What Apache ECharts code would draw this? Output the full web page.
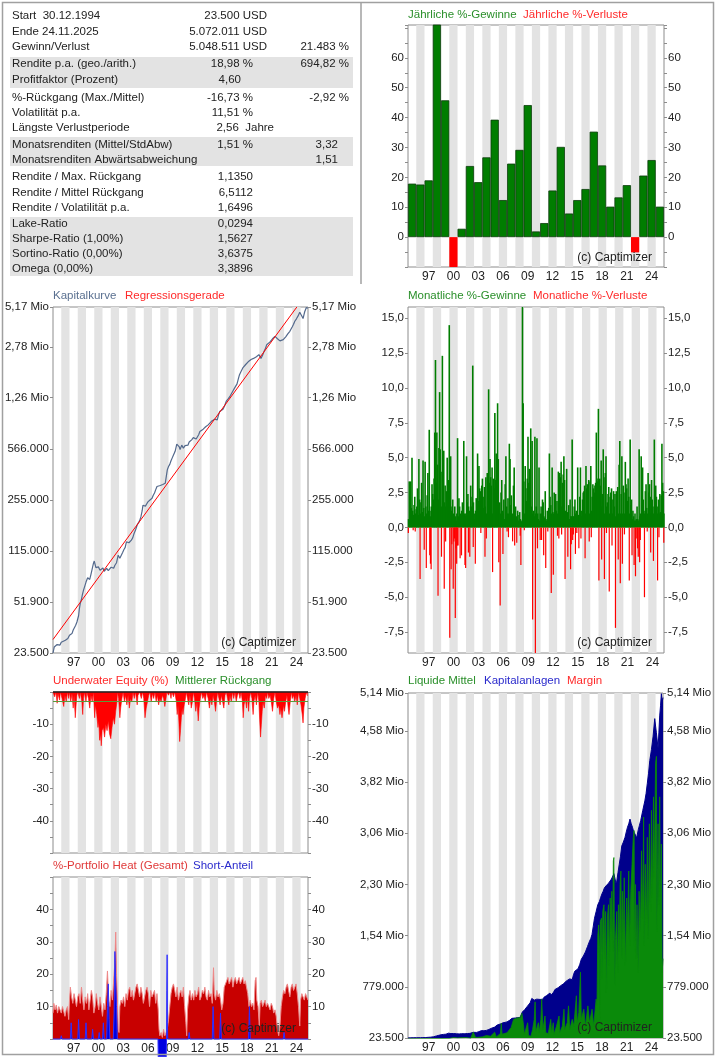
<!DOCTYPE html>
<html>
<head>
<meta charset="utf-8">
<title>Captimizer Auswertung</title>
<script src="https://cdn.jsdelivr.net/npm/echarts@6/dist/echarts.min.js"></script>
<style>
  body { margin: 0; background: #fff; }
  #main { width: 717px; height: 1057px; }
</style>
</head>
<body>
<div id="main"></div>
<script>
// ---- Kennzahlen-Tabelle ----
const statLabels = ['Start  30.12.1994', 'Ende 24.11.2025', 'Gewinn/Verlust', 'Rendite p.a. (geo./arith.)',
  'Profitfaktor (Prozent)', '%-Rückgang (Max./Mittel)', 'Volatilität p.a.', 'Längste Verlustperiode',
  'Monatsrenditen (Mittel/StdAbw)', 'Monatsrenditen Abwärtsabweichung', 'Rendite / Max. Rückgang',
  'Rendite / Mittel Rückgang', 'Rendite / Volatilität p.a.', 'Lake-Ratio', 'Sharpe-Ratio (1,00%)',
  'Sortino-Ratio (0,00%)', 'Omega (0,00%)'];
const statValues = ['23.500 USD', '5.072.011 USD', '5.048.511 USD', '18,98 %', '4,60', '-16,73 %', '11,51 %',
  '2,56  Jahre', '1,51 %', '', '1,1350', '6,5112', '1,6496', '0,0294', '1,5627', '3,6375', '3,3896'];
const statExtra = ['', '', '21.483 %', '694,82 %', '', '-2,92 %', '', '', '3,32', '1,51', '', '', '', '', '', '', ''];

// ---- Jahresrenditen ----
const years = [1995, 1996, 1997, 1998, 1999, 2000, 2001, 2002, 2003, 2004, 2005, 2006, 2007, 2008, 2009, 2010,
  2011, 2012, 2013, 2014, 2015, 2016, 2017, 2018, 2019, 2020, 2021, 2022, 2023, 2024, 2025];
const yearlyReturns = [17.9, 17.6, 19.0, 75.0, 45.8, -10.8, 2.8, 23.8, 18.4, 26.7, 39.3, 12.4, 24.6, 29.2, 44.2,
  1.9, 4.7, 15.6, 30.2, 7.9, 12.4, 16.1, 35.3, 24.0, 10.2, 13.3, 17.4, -5.1, 20.6, 25.8, 10.2];
const labelYears = [1997, 2000, 2003, 2006, 2009, 2012, 2015, 2018, 2021, 2024];

// ---- Monatliche Gewinne / Verluste je Monat (Jan 1995 .. Nov 2025) ----
const monthlyGains = [
  0.6, 3.3, 2.5, 3.3, 1.4, 5.0, 1.2, 0.9, 1.6, 2.2, 1.0, 1.3,     // 1995
  1.5, 2.8, 0.9, 4.9, 2.0, 1.0, 1.8, 3.2, 1.1, 4.8, 1.4, 0.8,     // 1996
  4.7, 1.5, 1.0, 2.3, 3.9, 1.2, 7.0, 1.2, 0.8, 1.5, 3.1, 2.4,     // 1997
  2.0, 3.5, 6.8, 12.0, 3.2, 6.8, 4.5, 2.0, 5.7, 9.7, 5.6, 4.0,    // 1998
  1.5, 12.3, 2.8, 5.5, 1.8, 3.0, 1.5, 2.6, 5.0, 1.5, 3.4, 14.5,   // 1999
  1.0, 5.1, 1.2, 1.5, 2.0, 1.0, 0.8, 1.5, 0.8, 0.5, 1.0, 6.4,     // 2000
  0.8, 2.1, 1.5, 1.0, 0.9, 1.2, 1.8, 0.6, 6.2, 1.0, 0.8, 1.0,     // 2001
  5.1, 1.8, 2.4, 1.5, 1.2, 1.0, 3.0, 1.5, 2.2, 11.6, 1.8, 0.6,    // 2002
  1.0, 1.2, 2.1, 1.5, 5.3, 1.9, 4.4, 2.8, 2.6, 2.0, 3.0, 3.5,     // 2003
  2.2, 1.4, 2.9, 1.5, 3.6, 1.0, 3.9, 2.5, 9.9, 3.2, 4.9, 3.6,     // 2004
  3.0, 4.3, 1.0, 3.5, 2.8, 8.2, 3.4, 5.3, 5.1, 8.9, 4.9, 1.5,     // 2005
  1.8, 1.0, 2.5, 3.4, 1.2, 1.0, 2.0, 0.6, 3.1, 5.1, 1.5, 1.0,     // 2006
  2.1, 1.0, 6.0, 4.9, 1.6, 2.3, 0.8, 1.0, 3.0, 4.3, 0.8, 1.5,     // 2007
  0.8, 0.5, 1.2, 0.5, 0.9, 1.1, 0.6, 0.5, 0.4, 16.5, 8.9, 3.3,    // 2008
  1.0, 4.4, 2.8, 1.9, 3.5, 6.5, 3.2, 4.2, 2.0, 7.1, 1.5, 6.2,     // 2009
  1.0, 1.2, 0.8, 6.5, 1.0, 1.5, 6.4, 1.0, 0.6, 4.3, 0.5, 1.0,     // 2010
  1.5, 1.0, 2.0, 1.8, 0.8, 0.7, 2.6, 0.6, 0.5, 1.2, 0.6, 1.4,     // 2011
  5.3, 2.2, 1.6, 1.0, 4.3, 1.1, 1.0, 2.5, 1.8, 2.4, 1.2, 1.9,     // 2012
  1.0, 4.0, 1.5, 3.9, 3.6, 4.7, 1.5, 3.2, 3.8, 5.1, 3.4, 1.2,     // 2013
  0.8, 4.2, 1.1, 1.0, 1.6, 0.6, 2.0, 0.8, 0.8, 6.3, 0.8, 0.8,     // 2014
  1.5, 2.0, 1.0, 1.2, 0.8, 4.3, 0.9, 0.8, 2.2, 4.3, 0.8, 1.2,     // 2015
  2.0, 2.5, 2.6, 3.0, 1.0, 4.4, 2.8, 3.1, 2.5, 3.4, 1.0, 3.3,     // 2016
  4.4, 1.2, 2.2, 3.1, 2.8, 2.5, 3.0, 3.2, 6.8, 3.5, 3.3, 8.5,     // 2017
  1.2, 3.5, 3.0, 4.8, 1.5, 2.4, 5.6, 3.6, 1.0, 3.9, 5.1, 1.5,     // 2018
  1.8, 2.4, 2.9, 1.0, 2.2, 2.5, 2.8, 1.0, 2.0, 2.6, 1.5, 2.4,     // 2019
  0.8, 2.6, 1.9, 2.9, 1.0, 4.5, 6.2, 1.0, 2.4, 5.1, 1.0, 3.0,     // 2020
  2.5, 1.0, 4.7, 3.1, 2.8, 1.9, 3.5, 2.2, 1.0, 6.3, 1.6, 2.0,     // 2021
  0.6, 1.2, 0.8, 0.5, 1.0, 0.5, 0.6, 1.5, 0.6, 0.5, 5.6, 0.8,     // 2022
  1.0, 5.1, 1.5, 4.3, 2.0, 1.2, 1.0, 2.6, 3.1, 1.4, 1.0, 3.9,     // 2023
  2.5, 3.1, 2.2, 1.0, 3.4, 2.0, 1.5, 1.0, 6.3, 2.8, 3.0, 2.2,     // 2024
  1.5, 1.0, 2.0, 1.0, 2.4, 1.1, 2.3, 6.0, 3.2, 2.6, 1.0           // 2025
];
const monthlyLosses = [
  -0.4, 0, 0, 0, 0, 0, 0, -0.2, 0, 0, -0.3, 0,                    // 1995
  0, 0, 0, 0, 0, -3.7, 0, 0, 0, 0, 0, -1.6,                       // 1996
  0, 0, -2.9, 0, 0, 0, 0, -2.0, -2.6, -3.0, 0, 0,                 // 1997
  0, 0, 0, 0, 0, 0, 0, -4.9, 0, 0, 0, 0,                          // 1998
  -2.1, 0, 0, 0, -4.4, 0, -1.0, 0, 0, 0, 0, 0,                    // 1999
  -7.9, 0, -3.0, -1.2, 0, -4.4, -1.0, -0.8, -6.5, -1.5, -2.6, -1.3, // 2000
  -1.3, 0, 0, -2.2, 0, -2.0, 0, 0, 0, 0, -2.7, -2.9,              // 2001
  0, 0, 0, -1.8, 0, -2.1, 0, 0, 0, 0, -1.4, 0,                    // 2002
  0, -2.6, 0, 0, 0, 0, 0, 0, 0, -0.4, 0, 0,                       // 2003
  0, 0, 0, -2.1, 0, -0.8, 0, 0, 0, 0, 0, 0,                       // 2004
  0, 0, -3.2, 0, 0, 0, 0, 0, 0, 0, 0, -2.5,                       // 2005
  0, -5.6, 0, 0, 0, -1.9, 0, 0, 0, 0, 0, -0.3,                    // 2006
  0, -0.7, 0, 0, 0, 0, 0, -1.0, 0, 0, -1.3, 0,                    // 2007
  0, -1.1, 0, 0, 0, 0, -0.6, -2.7, 0, 0, 0, 0,                    // 2008
  -0.2, 0, 0, 0, 0, 0, 0, 0, 0, 0, 0, 0,                          // 2009
  -6.6, 0, 0, 0, -9.3, 0, 0, -1.5, 0, 0, 0, -0.9,                 // 2010
  0, -0.9, 0, 0, -2.0, 0, 0, -2.9, 0, 0, -0.3, 0,                 // 2011
  0, 0, 0, -4.7, 0, 0, -3.4, 0, 0, 0, 0, 0,                       // 2012
  -0.6, 0, -0.8, 0, 0, 0, -0.5, 0, 0, 0, 0, -3.7,                 // 2013
  0, 0, 0, -2.1, 0, 0, 0, -3.0, -1.2, 0, -0.9, -0.5,              // 2014
  0, 0, -1.9, 0, -0.4, 0, 0, -1.5, 0, 0, -0.8, 0,                 // 2015
  0, 0, 0, 0, -2.2, 0, 0, 0, 0, 0, -1.0, 0,                       // 2016
  0, -0.7, 0, 0, 0, 0, 0, 0, 0, 0, 0, 0,                          // 2017
  -3.8, 0, 0, 0, -2.3, 0, 0, 0, -3.7, 0, 0, -0.4,                 // 2018
  0, 0, 0, -4.6, 0, 0, 0, -1.3, 0, 0, 0, 0,                       // 2019
  -7.2, 0, 0, 0, -2.3, 0, 0, -4.0, 0, 0, -2.6, 0,                 // 2020
  0, -0.5, 0, 0, 0, 0, 0, 0, -3.8, 0, 0, 0,                       // 2021
  -2.0, 0, 0, -2.7, 0, -3.5, -0.8, 0, -1.5, -2.1, 0, -2.5,        // 2022
  -0.9, 0, 0, 0, 0, 0, -5.0, 0, 0, 0, -0.3, 0,                    // 2023
  0, 0, 0, -1.8, 0, 0, 0, -2.4, 0, 0, 0, 0,                       // 2024
  0, -3.8, 0, -0.7, 0, 0, 0, 0, 0, 0, -1.1                        // 2025
];

// ---- Kapitalkurve [Jahr, USD] ----
const equityCurve = [
  [1995.0, 23500], [1995.15, 25800], [1995.3, 25500], [1995.5, 26800], [1995.7, 27200], [1995.85, 26600],
  [1996.0, 27800], [1996.2, 28100], [1996.5, 28650], [1996.65, 28000], [1996.8, 29500], [1997.0, 31000],
  [1997.15, 30400], [1997.3, 31800], [1997.45, 33600], [1997.6, 33900], [1997.75, 36200], [1997.9, 38100],
  [1998.1, 42000], [1998.2, 47000], [1998.3, 50800], [1998.45, 54500], [1998.55, 58000], [1998.7, 62600],
  [1998.9, 68000], [1999.0, 71000], [1999.1, 72000], [1999.2, 76000], [1999.3, 77000], [1999.45, 74000],
  [1999.6, 80000], [1999.75, 82000], [1999.9, 95000], [2000.0, 98500], [2000.1, 96000], [2000.2, 89000],
  [2000.3, 88000], [2000.5, 90000], [2000.7, 85500], [2000.9, 86000], [2001.05, 88500], [2001.2, 84000],
  [2001.35, 86000], [2001.5, 87900], [2001.7, 85000], [2001.9, 86500], [2002.05, 89500], [2002.2, 90000],
  [2002.35, 88000], [2002.5, 92300], [2002.7, 96000], [2002.9, 108000], [2003.1, 103000], [2003.3, 106000],
  [2003.45, 113000], [2003.6, 118000], [2003.75, 122000], [2003.9, 133000], [2004.05, 129000], [2004.2, 131000],
  [2004.35, 134000], [2004.5, 136500], [2004.65, 141000], [2004.8, 150000], [2005.0, 160000], [2005.2, 173000],
  [2005.35, 178000], [2005.5, 185000], [2005.65, 196000], [2005.8, 215000], [2005.9, 235000], [2006.0, 242000],
  [2006.2, 232000], [2006.35, 240000], [2006.5, 248000], [2006.75, 255000], [2007.0, 262000], [2007.15, 275000],
  [2007.3, 285000], [2007.45, 300000], [2007.6, 315000], [2007.8, 318000], [2008.0, 320000], [2008.3, 325000],
  [2008.5, 328000], [2008.6, 331000], [2008.75, 336000], [2008.85, 408000], [2009.0, 430000], [2009.15, 445000],
  [2009.3, 470000], [2009.45, 492000], [2009.6, 515000], [2009.8, 545000], [2010.0, 610000], [2010.2, 618000],
  [2010.3, 585000], [2010.4, 560000], [2010.6, 600000], [2010.8, 573000], [2011.0, 595000], [2011.2, 610000],
  [2011.35, 600000], [2011.5, 630000], [2011.65, 615000], [2011.8, 652000], [2012.0, 675000], [2012.2, 690000],
  [2012.35, 660000], [2012.5, 670000], [2012.65, 705000], [2012.8, 742000], [2013.0, 752000], [2013.2, 770000],
  [2013.35, 790000], [2013.5, 800000], [2013.65, 815000], [2013.8, 823000], [2014.0, 845000], [2014.2, 870000],
  [2014.4, 880000], [2014.6, 900000], [2014.75, 875000], [2014.9, 890000], [2015.05, 960000], [2015.2, 1013000],
  [2015.4, 1030000], [2015.6, 1050000], [2015.8, 1110000], [2016.0, 1190000], [2016.25, 1240000],
  [2016.5, 1300000], [2016.75, 1380000], [2017.0, 1460000], [2017.15, 1500000], [2017.3, 1560000],
  [2017.45, 1680000], [2017.6, 1800000], [2017.8, 1900000], [2018.0, 2000000], [2018.2, 2050000],
  [2018.35, 2110000], [2018.5, 2160000], [2018.65, 2200000], [2018.8, 2250000], [2019.0, 2280000],
  [2019.1, 2300000], [2019.3, 2320000], [2019.5, 2340000], [2019.65, 2380000], [2019.8, 2400000],
  [2019.95, 2460000], [2020.1, 2450000], [2020.2, 2320000], [2020.3, 2350000], [2020.45, 2480000],
  [2020.6, 2600000], [2020.75, 2720000], [2020.9, 2870000], [2021.1, 2930000], [2021.3, 3000000],
  [2021.45, 3080000], [2021.6, 3150000], [2021.75, 3200000], [2021.9, 3270000], [2022.05, 3200000],
  [2022.2, 3150000], [2022.35, 3080000], [2022.5, 3050000], [2022.7, 2990000], [2022.9, 3110000],
  [2023.05, 3180000], [2023.2, 3250000], [2023.45, 3400000], [2023.7, 3540000], [2023.85, 3650000],
  [2024.0, 3800000], [2024.15, 3950000], [2024.3, 4140000], [2024.5, 4300000], [2024.7, 4500000],
  [2024.9, 4760000], [2025.0, 4650000], [2025.1, 4550000], [2025.3, 4320000], [2025.4, 4550000],
  [2025.5, 4800000], [2025.6, 4950000], [2025.7, 5130000], [2025.8, 5010000], [2025.9, 5072011]
];
const regressionLine = [[1995.0, 29000], [2024.55, 5170000]];
const equityTicks = [23500, 51900, 115000, 255000, 566000, 1260000, 2780000, 5170000];

// ---- Underwater Equity [Jahr, %] ----
const underwater = [
  [1995.0, 0], [1995.2, -1.5], [1995.35, 0], [1995.5, -3.5], [1995.6, -0.5], [1995.8, -2.5], [1995.9, 0],
  [1996.1, -2], [1996.3, -4.5], [1996.45, -1], [1996.6, -3], [1996.75, 0], [1996.9, -2], [1997.0, 0],
  [1997.15, -3], [1997.3, -0.5], [1997.45, -5], [1997.55, -1], [1997.7, -8], [1997.8, -4], [1997.9, -1],
  [1998.0, 0], [1998.2, -2], [1998.3, 0], [1998.5, -3], [1998.6, -7], [1998.7, -2], [1998.8, 0], [1999.0, -3],
  [1999.1, 0], [1999.3, -2], [1999.45, -5], [1999.6, -1], [1999.75, -3], [1999.9, 0], [2000.05, -8],
  [2000.15, -4], [2000.3, -7], [2000.45, -11], [2000.55, -9], [2000.65, -15], [2000.75, -13], [2000.85, -16.7],
  [2000.95, -12], [2001.1, -11], [2001.25, -14], [2001.4, -10], [2001.55, -12], [2001.7, -9], [2001.85, -13],
  [2002.0, -14.5], [2002.15, -11], [2002.3, -8], [2002.45, -10], [2002.6, -6], [2002.75, -3], [2002.8, 0],
  [2002.95, -2], [2003.1, -8], [2003.2, -5], [2003.35, -2], [2003.5, 0], [2003.65, -3], [2003.8, -1],
  [2003.95, -4], [2004.1, -1], [2004.25, -5], [2004.4, -2], [2004.55, -3], [2004.7, 0], [2004.85, -2],
  [2005.0, 0], [2005.2, -4], [2005.3, -1], [2005.5, 0], [2005.7, -2], [2005.85, 0], [2006.0, -2], [2006.15, -8],
  [2006.3, -5], [2006.45, -3], [2006.6, -1], [2006.75, 0], [2006.9, -3], [2007.05, -0.5], [2007.2, -2],
  [2007.35, 0], [2007.5, -3], [2007.65, -1], [2007.8, -4], [2007.95, -2], [2008.1, -3], [2008.25, -1],
  [2008.4, -2], [2008.55, -4.5], [2008.7, -2], [2008.8, 0], [2009.0, -1], [2009.15, 0], [2009.3, -2],
  [2009.4, 0], [2009.6, -1.5], [2009.75, 0], [2009.95, -3], [2010.05, -7], [2010.15, -4], [2010.25, -9],
  [2010.35, -15.4], [2010.45, -12], [2010.55, -8], [2010.65, -5], [2010.75, -7], [2010.9, -4], [2011.05, -2],
  [2011.15, 0], [2011.3, -2], [2011.45, -4], [2011.6, -1], [2011.75, -5], [2011.9, -3], [2012.0, 0],
  [2012.15, -2], [2012.3, -6], [2012.45, -3], [2012.6, -9], [2012.7, -5], [2012.85, -2], [2013.0, 0],
  [2013.15, -2], [2013.3, -1], [2013.45, -3], [2013.6, 0], [2013.8, -2], [2013.95, -5], [2014.1, -2],
  [2014.25, -4], [2014.4, -1], [2014.55, -3], [2014.7, -6], [2014.85, -2], [2014.95, 0], [2015.1, -2],
  [2015.25, -4], [2015.4, -1], [2015.55, -3], [2015.7, -5], [2015.85, -1], [2016.0, 0], [2016.15, -2],
  [2016.3, -4], [2016.45, -1], [2016.6, -3], [2016.75, 0], [2016.9, -2], [2017.05, 0], [2017.2, -3],
  [2017.35, -1], [2017.5, 0], [2017.65, -2], [2017.8, 0], [2017.95, -3], [2018.05, -8], [2018.15, -4],
  [2018.3, -2], [2018.45, -5], [2018.55, -1], [2018.7, -6], [2018.8, -2], [2018.95, 0], [2019.1, -2],
  [2019.25, -7], [2019.35, -3], [2019.5, -1], [2019.65, -4], [2019.8, 0], [2019.95, -3], [2020.05, -9],
  [2020.15, -14], [2020.25, -10], [2020.35, -6], [2020.45, -3], [2020.6, -5], [2020.75, -1], [2020.9, -2],
  [2021.0, 0], [2021.15, -2], [2021.3, -1], [2021.45, -3], [2021.6, -6], [2021.75, -2], [2021.9, 0],
  [2022.05, -3], [2022.2, -5], [2022.35, -4], [2022.5, -7], [2022.6, -5], [2022.75, -8], [2022.85, -6],
  [2022.95, -4], [2023.05, -6], [2023.2, -3], [2023.35, -1], [2023.5, -5], [2023.6, -7], [2023.75, -3],
  [2023.9, 0], [2024.0, -2], [2024.15, -1], [2024.3, -3], [2024.45, -1], [2024.6, -4], [2024.75, 0],
  [2024.9, -2], [2025.05, -4], [2025.2, -7], [2025.3, -9.6], [2025.4, -5], [2025.55, -2], [2025.7, 0],
  [2025.8, -1], [2025.9, -1.2]
];
const meanDrawdown = -2.92;

// ---- Portfolio Heat [Jahr, %] ----
const portfolioHeat = [
  [1995.0, 8], [1995.1, 11], [1995.25, 9], [1995.4, 10.5], [1995.55, 8], [1995.7, 10], [1995.85, 9], [1996.0, 8],
  [1996.15, 10], [1996.3, 9.5], [1996.45, 7], [1996.6, 9], [1996.75, 10], [1996.9, 6], [1997.0, 12], [1997.1, 16],
  [1997.25, 13], [1997.4, 11], [1997.55, 14], [1997.7, 12], [1997.85, 10], [1998.0, 13], [1998.15, 14],
  [1998.3, 11], [1998.45, 16], [1998.6, 12], [1998.75, 9], [1998.9, 13], [1999.05, 11], [1999.2, 14],
  [1999.35, 9], [1999.5, 12], [1999.65, 15], [1999.8, 13], [1999.95, 8], [2000.1, 10], [2000.25, 14],
  [2000.4, 11], [2000.55, 9], [2000.7, 13], [2000.85, 10], [2001.0, 7], [2001.15, 11], [2001.3, 9],
  [2001.45, 14], [2001.6, 21], [2001.75, 12], [2001.9, 10], [2002.05, 15], [2002.2, 12], [2002.35, 18],
  [2002.5, 24], [2002.6, 33], [2002.7, 20], [2002.8, 12], [2002.9, 3], [2003.0, 2], [2003.1, 10], [2003.25, 12],
  [2003.4, 11], [2003.55, 13], [2003.7, 10], [2003.85, 14], [2004.0, 12], [2004.15, 15], [2004.3, 16],
  [2004.45, 13], [2004.6, 15], [2004.75, 12], [2004.9, 14], [2005.05, 16], [2005.2, 17], [2005.35, 15],
  [2005.5, 13], [2005.65, 16], [2005.8, 14], [2005.95, 11], [2006.1, 13], [2006.25, 15], [2006.4, 16],
  [2006.55, 14], [2006.7, 10], [2006.85, 15], [2007.0, 13], [2007.15, 14], [2007.3, 15], [2007.45, 11],
  [2007.6, 14], [2007.75, 9], [2007.85, 3], [2007.95, 1], [2008.1, 2], [2008.25, 0.5], [2008.4, 3], [2008.55, 1],
  [2008.7, 2], [2008.85, 3], [2009.0, 6], [2009.15, 10], [2009.3, 14], [2009.45, 16], [2009.6, 17], [2009.75, 15],
  [2009.9, 13], [2010.05, 16], [2010.2, 12], [2010.35, 14], [2010.5, 15], [2010.65, 13], [2010.8, 16],
  [2010.95, 10], [2011.1, 5], [2011.2, 1], [2011.3, 9], [2011.45, 13], [2011.6, 15], [2011.75, 12], [2011.9, 14],
  [2012.05, 12], [2012.2, 15], [2012.35, 13], [2012.5, 14], [2012.65, 16], [2012.8, 12], [2012.95, 13],
  [2013.1, 15], [2013.25, 14], [2013.4, 16], [2013.55, 13], [2013.7, 12], [2013.85, 15], [2014.0, 13],
  [2014.15, 14], [2014.3, 11], [2014.45, 22], [2014.55, 14], [2014.7, 12], [2014.85, 15], [2015.0, 13],
  [2015.15, 14], [2015.3, 12], [2015.45, 9], [2015.6, 11], [2015.75, 16], [2015.9, 17], [2016.05, 18],
  [2016.2, 19], [2016.35, 17], [2016.5, 18], [2016.65, 19], [2016.8, 16], [2016.95, 18], [2017.1, 19],
  [2017.25, 17], [2017.4, 18], [2017.55, 19], [2017.7, 17], [2017.85, 18], [2018.0, 19], [2018.15, 17],
  [2018.3, 18], [2018.45, 16], [2018.6, 14], [2018.75, 10], [2018.9, 12], [2019.05, 10], [2019.2, 11],
  [2019.35, 9], [2019.5, 18], [2019.6, 19], [2019.7, 12], [2019.85, 10], [2020.0, 4], [2020.1, 11],
  [2020.25, 12], [2020.4, 10], [2020.55, 11], [2020.7, 12], [2020.85, 10], [2021.0, 11], [2021.15, 10],
  [2021.3, 9], [2021.45, 11], [2021.6, 10], [2021.75, 8], [2021.9, 9], [2022.05, 7], [2022.2, 3], [2022.35, 1],
  [2022.5, 4], [2022.65, 10], [2022.8, 13], [2022.95, 15], [2023.1, 14], [2023.25, 16], [2023.4, 17],
  [2023.55, 15], [2023.7, 13], [2023.85, 16], [2024.0, 17], [2024.15, 15], [2024.3, 16], [2024.45, 17],
  [2024.6, 14], [2024.75, 10], [2024.9, 4], [2025.0, 12], [2025.15, 14], [2025.3, 13], [2025.45, 12],
  [2025.6, 14], [2025.75, 13], [2025.9, 12]
];
const shortShare = [
  [1995.0, 0], [1995.9, 0], [1996.0, 1], [1996.1, 0], [1997.1, 0], [1997.2, 5], [1997.3, 0], [1998.0, 0],
  [1998.1, 6], [1998.2, 0], [1998.9, 0], [1999.0, 5], [1999.1, 0], [1999.7, 0], [1999.8, 3], [1999.9, 0],
  [2000.5, 0], [2000.6, 2], [2000.7, 0], [2001.0, 0], [2001.1, 5], [2001.2, 0], [2001.5, 0], [2001.6, 10],
  [2001.7, 17], [2001.8, 6], [2001.9, 0], [2002.3, 0], [2002.4, 8], [2002.5, 27], [2002.6, 17], [2002.7, 10],
  [2002.8, 0], [2007.72, 0], [2007.75, -5.5], [2008.72, -5.5], [2008.76, 0], [2008.79, 15], [2008.83, 26],
  [2008.87, 5], [2008.9, 0], [2011.4, 0], [2011.5, 2], [2011.6, 0], [2014.3, 0], [2014.4, 10],
  [2014.5, 0], [2015.2, 0], [2015.3, 8], [2015.4, 0], [2018.7, 0], [2018.8, 10], [2018.9, 0], [2022.9, 0],
  [2023.0, 2], [2023.1, 0], [2025.9, 0]
];

// ---- Liquide Mittel [Jahr, USD] ----
const liquidFunds = [
  [1995.0, 2000], [1996.0, 3000], [1997.0, 4000], [1998.0, 6000], [1999.0, 8000], [2000.0, 15000], [2000.5, 30000],
  [2001.0, 25000], [2002.0, 30000], [2002.6, 20000], [2002.9, 110000], [2003.05, 120000], [2003.2, 30000],
  [2004.0, 40000], [2004.5, 60000], [2005.0, 50000], [2005.5, 110000], [2005.7, 40000], [2006.2, 90000],
  [2006.3, 240000], [2006.4, 80000], [2007.0, 100000], [2007.5, 180000], [2007.8, 300000], [2008.2, 320000],
  [2008.6, 330000], [2008.8, 390000], [2009.0, 220000], [2009.1, 80000], [2009.3, 60000], [2009.5, 250000],
  [2009.6, 60000], [2009.9, 50000], [2010.1, 150000], [2010.3, 300000], [2010.4, 560000], [2010.5, 120000],
  [2010.8, 250000], [2010.9, 100000], [2011.1, 300000], [2011.2, 600000], [2011.35, 150000], [2011.6, 350000],
  [2011.7, 100000], [2012.0, 90000], [2012.3, 300000], [2012.4, 100000], [2012.6, 250000], [2012.7, 80000],
  [2013.0, 200000], [2013.3, 350000], [2013.4, 100000], [2013.7, 200000], [2013.9, 450000], [2014.0, 150000],
  [2014.3, 250000], [2014.45, 500000], [2014.6, 150000], [2014.9, 300000], [2015.1, 200000], [2015.4, 650000],
  [2015.5, 250000], [2015.7, 400000], [2015.9, 1000000], [2016.0, 300000], [2016.3, 450000], [2016.5, 200000],
  [2016.8, 500000], [2017.0, 250000], [2017.3, 450000], [2017.5, 200000], [2017.8, 600000], [2017.9, 500000],
  [2018.0, 1550000], [2018.1, 1700000], [2018.2, 1400000], [2018.25, 300000], [2018.3, 1750000],
  [2018.45, 1800000], [2018.55, 900000], [2018.6, 1900000], [2018.75, 2000000], [2018.85, 1200000],
  [2018.95, 1900000], [2019.05, 700000], [2019.15, 1800000], [2019.3, 2000000], [2019.4, 1100000],
  [2019.5, 2100000], [2019.6, 1600000], [2019.7, 2200000], [2019.8, 1300000], [2019.88, 2650000],
  [2019.95, 2700000], [2020.05, 800000], [2020.15, 1500000], [2020.3, 1900000], [2020.4, 1000000],
  [2020.5, 2000000], [2020.6, 1300000], [2020.7, 2300000], [2020.8, 2500000], [2020.9, 1200000],
  [2021.0, 2200000], [2021.1, 1500000], [2021.2, 2400000], [2021.35, 1100000], [2021.5, 2100000],
  [2021.6, 1600000], [2021.75, 2500000], [2021.85, 1400000], [2022.0, 2200000], [2022.15, 2600000],
  [2022.3, 3000000], [2022.4, 3100000], [2022.45, 1300000], [2022.55, 2300000], [2022.65, 1200000],
  [2022.75, 2000000], [2022.9, 1000000], [2023.0, 2200000], [2023.15, 1600000], [2023.3, 2800000],
  [2023.45, 1800000], [2023.55, 3300000], [2023.62, 1400000], [2023.75, 2600000], [2023.9, 1700000],
  [2024.0, 3000000], [2024.1, 1500000], [2024.25, 3200000], [2024.4, 1900000], [2024.5, 3400000],
  [2024.6, 2100000], [2024.75, 3600000], [2024.85, 2400000], [2025.0, 4100000], [2025.1, 4200000],
  [2025.15, 1600000], [2025.3, 3200000], [2025.4, 2000000], [2025.5, 3600000], [2025.6, 1800000],
  [2025.7, 2900000], [2025.8, 1000000], [2025.9, 1200000]
];
const liquidityTicks = [23500, 779000, 1540000, 2300000, 3060000, 3820000, 4580000, 5140000];
const monthlyTicks = [-7.5, -5, -2.5, 0, 2.5, 5, 7.5, 10, 12.5, 15];

// ---- Darstellung ----
const FONT = '"Liberation Sans", Arial, Helvetica, sans-serif';
const BAND = '#e3e3e3';
const BORDER = '#8c8c8c';
const TXT = '#222';
const GREEN = '#007d00';
const RED = '#ff0000';
const X_MIN = 1995, X_MAX = 2025.9;

function fmtMoney(v) {
  if (v >= 1e6) return (v / 1e6).toFixed(2).replace('.', ',') + ' Mio';
  return String(Math.round(v)).replace(/\B(?=(\d{3})+(?!\d))/g, '.');
}
const fmtDec = v => v.toFixed(1).replace('.', ',');
const shortYear = v => String(Math.floor(v)).slice(2);

function xTime(gridIndex, showLabel) {
  return {
    type: 'value', gridIndex, min: X_MIN, max: X_MAX, interval: 1,
    axisLine: { show: false }, axisTick: { show: false }, splitLine: { show: false },
    splitArea: { show: true, areaStyle: { color: ['rgba(0,0,0,0)', BAND] } },
    axisLabel: {
      show: showLabel, customValues: labelYears.map(y => y + 0.5), formatter: shortYear,
      color: TXT, fontSize: 12, fontFamily: FONT, margin: 4
    }
  };
}

function yPair(gridIndex, cfg) {
  return ['left', 'right'].map(pos => ({
    type: cfg.type || 'value', gridIndex, position: pos, min: cfg.min, max: cfg.max, interval: cfg.interval,
    axisLine: { show: false },
    axisTick: { show: true, length: 3, lineStyle: { color: BORDER }, customValues: cfg.ticks },
    minorTick: { show: !!cfg.minor, splitNumber: 2, length: 3, lineStyle: { color: BORDER } },
    splitLine: { show: false },
    axisLabel: { customValues: cfg.labels, formatter: cfg.fmt, color: TXT, fontSize: 11.5, fontFamily: FONT, margin: 4 }
  }));
}

const grids = [
  { left: 408, top: 25, width: 256, height: 242 },   // Jahresrenditen
  { left: 53, top: 307, width: 255, height: 346 },   // Kapitalkurve
  { left: 408, top: 307, width: 256, height: 346 },  // Monatsrenditen
  { left: 53, top: 692, width: 255, height: 161 },   // Underwater
  { left: 53, top: 877, width: 255, height: 162 },   // Portfolio Heat
  { left: 408, top: 693, width: 255, height: 345 }   // Liquide Mittel
].map(g => Object.assign({ show: true, borderColor: BORDER, borderWidth: 1, backgroundColor: 'rgba(0,0,0,0)' }, g));

const xAxes = [
  {
    type: 'category', gridIndex: 0, data: years.map(String), boundaryGap: true,
    axisLine: { show: false }, axisTick: { show: false }, splitLine: { show: false },
    splitArea: { show: true, interval: 0, areaStyle: { color: ['rgba(0,0,0,0)', BAND] } },
    axisLabel: {
      interval: (i, v) => labelYears.includes(+v), formatter: v => v.slice(2),
      color: TXT, fontSize: 12, fontFamily: FONT, margin: 4
    }
  },
  xTime(1, true), xTime(2, true), xTime(3, false), xTime(4, true), xTime(5, true)
];

const yAxes = [].concat(
  yPair(0, { min: -10, max: 71, interval: 10, minor: true, labels: [0, 10, 20, 30, 40, 50, 60], fmt: v => String(v) }),
  yPair(1, { type: 'log', min: 23500, max: 5170000, labels: equityTicks, ticks: equityTicks, fmt: fmtMoney }),
  yPair(2, { min: -9, max: 15.8, labels: monthlyTicks, ticks: monthlyTicks, fmt: fmtDec }),
  yPair(3, { min: -50, max: 0, interval: 10, minor: true, labels: [-40, -30, -20, -10], fmt: v => String(v) }),
  yPair(4, { min: 0, max: 50, interval: 10, minor: true, labels: [10, 20, 30, 40], fmt: v => String(v) }),
  yPair(5, { min: 23500, max: 5140000, labels: liquidityTicks, ticks: liquidityTicks, fmt: fmtMoney })
);

const monthX = i => X_MIN + (i + 0.5) / 12;

const series = [
  { type: 'bar', name: 'Jährliche %-Gewinne', xAxisIndex: 0, yAxisIndex: 0, barGap: '-100%', barCategoryGap: '0%',
    data: yearlyReturns.map(v => (v > 0 ? v : '-')),
    itemStyle: { color: GREEN, borderColor: '#0d3b0d', borderWidth: 0.8 } },
  { type: 'bar', name: 'Jährliche %-Verluste', xAxisIndex: 0, yAxisIndex: 0, barGap: '-100%', barCategoryGap: '0%',
    data: yearlyReturns.map(v => (v < 0 ? v : '-')), itemStyle: { color: RED } },

  { type: 'line', name: 'Kapitalkurve', xAxisIndex: 1, yAxisIndex: 2, data: equityCurve, showSymbol: false,
    lineStyle: { color: '#53698c', width: 1.2 } },
  { type: 'line', name: 'Regressionsgerade', xAxisIndex: 1, yAxisIndex: 2, data: regressionLine, showSymbol: false,
    lineStyle: { color: RED, width: 1 } },

  { type: 'bar', name: 'Monatliche %-Gewinne', xAxisIndex: 2, yAxisIndex: 4, barWidth: 1.6, barGap: '-100%',
    data: monthlyGains.map((v, i) => [monthX(i), v]), itemStyle: { color: GREEN } },
  { type: 'bar', name: 'Monatliche %-Verluste', xAxisIndex: 2, yAxisIndex: 4, barWidth: 1.2, barGap: '-100%',
    data: monthlyLosses.map((v, i) => [monthX(i), v]).filter(d => d[1] < 0), itemStyle: { color: RED } },

  { type: 'line', name: 'Underwater Equity (%)', xAxisIndex: 3, yAxisIndex: 6, data: underwater, showSymbol: false,
    lineStyle: { color: RED, width: 0.6 }, areaStyle: { color: RED, opacity: 1 },
    markLine: { symbol: 'none', silent: true, label: { show: false },
      data: [{ yAxis: 0, lineStyle: { color: '#222', width: 1.5, type: 'solid' } },
             { yAxis: meanDrawdown, lineStyle: { color: '#5a9a3a', width: 1.2, type: 'solid' } }] } },

  { type: 'line', name: '%-Portfolio Heat (Gesamt)', xAxisIndex: 4, yAxisIndex: 8, data: portfolioHeat,
    showSymbol: false, lineStyle: { color: '#ee8a8a', width: 1 }, areaStyle: { color: '#c80000', opacity: 1 } },
  { type: 'line', name: 'Short-Anteil', xAxisIndex: 4, yAxisIndex: 8, data: shortShare, showSymbol: false, clip: false,
    lineStyle: { color: '#3030ff', width: 1 }, areaStyle: { color: '#0000e0', opacity: 1 } },

  { type: 'line', name: 'Kapitalanlagen', xAxisIndex: 5, yAxisIndex: 10, data: equityCurve, showSymbol: false,
    lineStyle: { color: '#00008c', width: 1 }, areaStyle: { color: '#00008c', opacity: 1 } },
  { type: 'line', name: 'Liquide Mittel', xAxisIndex: 5, yAxisIndex: 10, data: liquidFunds, showSymbol: false,
    lineStyle: { color: '#0a8a0a', width: 0.8 }, areaStyle: { color: '#0a8a0a', opacity: 1 } },
  { type: 'line', name: 'Margin', xAxisIndex: 5, yAxisIndex: 10, data: [], showSymbol: false,
    lineStyle: { color: RED } }
];

// ---- Grafik: Tabelle, Legenden, Rahmen ----
const graphics = [];
function txt(x, y, text, fill, align, size) {
  graphics.push({ type: 'text', x, y, z: 100,
    style: { text, fill: fill || TXT, font: (size || 11.5) + 'px ' + FONT, textAlign: align || 'left', textVerticalAlign: 'middle' } });
}
// Tabellen-Hintergründe
[[57, 31], [137, 29], [217, 59]].forEach(([y, h]) => graphics.push({ type: 'rect', z: 1,
  shape: { x: 10, y, width: 343, height: h }, style: { fill: '#e3e3e3' } }));
const rowY = [16, 32, 47, 64, 80, 98, 113, 128, 145, 160, 177, 193, 208, 224, 239, 254, 269];
statLabels.forEach((lab, i) => {
  txt(12, rowY[i], lab);
  const v = statValues[i];
  if (v) {
    const right = v.endsWith('USD') ? 267 : v.endsWith('Jahre') ? 274 : (v.endsWith('%') || v.length >= 6) ? 253 : 241;
    txt(right, rowY[i], v, TXT, 'right');
  }
  const e = statExtra[i];
  if (e) txt(e.endsWith('%') ? 349 : 338, rowY[i], e, TXT, 'right');
});

// Legenden
const G_TXT = '#2a8f2a', R_TXT = '#ff2a2a', B_TXT = '#2a2acc';
txt(408, 15, 'Jährliche %-Gewinne', G_TXT); txt(523, 15, 'Jährliche %-Verluste', R_TXT);
txt(53, 296, 'Kapitalkurve', '#5a7090'); txt(125, 296, 'Regressionsgerade', R_TXT);
txt(408, 296, 'Monatliche %-Gewinne', G_TXT); txt(533, 296, 'Monatliche %-Verluste', R_TXT);
txt(53, 681, 'Underwater Equity (%)', R_TXT); txt(175, 681, 'Mittlerer Rückgang', G_TXT);
txt(53, 866, '%-Portfolio Heat (Gesamt)', '#e03a3a'); txt(193, 866, 'Short-Anteil', B_TXT);
txt(408, 681, 'Liquide Mittel', G_TXT); txt(484, 681, 'Kapitalanlagen', B_TXT);
txt(567, 681, 'Margin', R_TXT);

// Copyright
[[652, 258], [296, 643], [652, 643], [296, 1029], [652, 1028]].forEach(([x, y]) =>
  txt(x, y, '(c) Captimizer', TXT, 'right', 12));

// Rahmen
graphics.push({ type: 'rect', z: 50, shape: { x: 2.5, y: 2.5, width: 711, height: 1052 },
  style: { fill: 'none', stroke: '#a0a0a0', lineWidth: 1.5 } });
graphics.push({ type: 'line', z: 50, shape: { x1: 361, y1: 3, x2: 361, y2: 284 },
  style: { stroke: '#a0a0a0', lineWidth: 1.5 } });

const chart = echarts.init(document.getElementById('main'), null, { renderer: 'canvas' });
chart.setOption({
  animation: false,
  backgroundColor: '#fff',
  textStyle: { fontFamily: FONT },
  grid: grids,
  xAxis: xAxes,
  yAxis: yAxes,
  series,
  graphic: graphics
});
</script>
</body>
</html>
